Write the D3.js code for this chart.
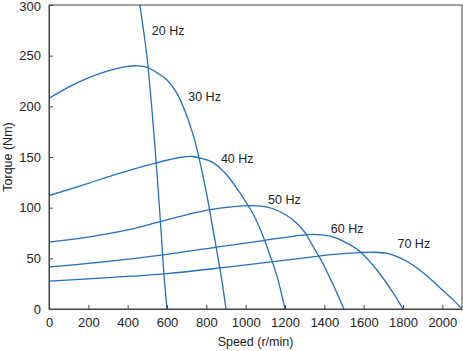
<!DOCTYPE html>
<html>
<head>
<meta charset="utf-8">
<script src="https://cdn.jsdelivr.net/npm/d3@7"></script>
<style>
  body { margin: 0; background: #fff; }
  text { font-family: "Liberation Sans", Arial, sans-serif; fill: #222; }
</style>
</head>
<body>
<div id="chart"></div>
<script>
// Data
const freqLabels = ['20 Hz', '30 Hz', '40 Hz', '50 Hz', '60 Hz', '70 Hz']

const speed20 = [462, 480, 500, 520, 538, 555, 573, 584, 600]
const torque20 = [300, 276, 246, 204, 162, 118, 68, 35, 0]

const speed30 = [0, 100, 200, 300, 400, 450, 500, 550, 600, 650, 700, 740, 770, 800, 830, 860, 880, 900]
const torque30 = [208, 219, 228, 235, 239.5, 240, 238.5, 233, 226, 213, 191, 167, 143, 115, 83, 50, 27, 0]

const speed40 = [0, 200, 360, 550, 680, 730, 780, 830, 870, 910, 955, 1000, 1040, 1080, 1120, 1160, 1200]
const torque40 = [112, 124, 134, 144.5, 150, 150.5, 148.5, 145, 139, 131, 119, 106, 93, 76, 55, 32, 0]

const speed50 = [0, 200, 400, 560, 700, 820, 940, 1040, 1110, 1175, 1240, 1300, 1330, 1360, 1390, 1420, 1450, 1475, 1500]
const torque50 = [66, 71, 78, 86, 93, 98, 101, 102, 100.5, 96, 88, 76, 66, 56, 46, 34, 22, 11, 0]

const speed60 = [0, 300, 580, 870, 1090, 1250, 1340, 1430, 1500, 1580, 1665, 1750, 1800]
const torque60 = [41.5, 47, 53.5, 61.5, 67.5, 72, 73.7, 71.8, 66.5, 57, 39, 16, 0]

const speed70 = [0, 300, 600, 870, 1130, 1300, 1450, 1580, 1650, 1720, 1785, 1850, 1910, 1960, 2010, 2060, 2100]
const torque70 = [27.6, 31, 35, 40.5, 46.5, 50.5, 54, 55.7, 56, 54.8, 50.5, 43.5, 34.5, 26, 17, 8, 0]

// label anchor (speed, torque) for each curve
const labelSpeed = [523, 708, 874, 1114, 1433, 1772]
const labelTorque = [270, 205.6, 144, 103.6, 75, 60]

const xTicks = [0, 200, 400, 600, 800, 1000, 1200, 1400, 1600, 1800, 2000]
const yTicks = [0, 50, 100, 150, 200, 250, 300]

// Dimensions
let dimensions = {
  width: 463,
  height: 351,
  margins: { top: 5, right: 1, bottom: 42, left: 49 },
}
dimensions.ctrWidth = dimensions.width - dimensions.margins.left - dimensions.margins.right
dimensions.ctrHeight = dimensions.height - dimensions.margins.top - dimensions.margins.bottom

const svg = d3.select('#chart')
  .append('svg')
  .attr('width', dimensions.width)
  .attr('height', dimensions.height)

const ctr = svg.append('g')
  .attr('transform', `translate(${dimensions.margins.left}, ${dimensions.margins.top})`)

// Scales
const xScale = d3.scaleLinear().domain([0, 2100]).range([0, dimensions.ctrWidth])
const yScale = d3.scaleLinear().domain([0, 300]).range([dimensions.ctrHeight, 0])

svg.append('defs').append('clipPath').attr('id', 'clip')
  .append('rect')
  .attr('width', dimensions.ctrWidth)
  .attr('height', dimensions.ctrHeight)

const curves = [
  [speed20, torque20],
  [speed30, torque30],
  [speed40, torque40],
  [speed50, torque50],
  [speed60, torque60],
  [speed70, torque70],
].map(([s, t]) => s.map((v, i) => ({ speed: v, torque: t[i] })))

const line = d3.line()
  .x(d => xScale(d.speed))
  .y(d => yScale(d.torque))
  .curve(d3.curveCatmullRom.alpha(0.5))

ctr.append('g')
  .attr('clip-path', 'url(#clip)')
  .selectAll('path')
  .data(curves)
  .join('path')
  .attr('d', line)
  .attr('fill', 'none')
  .attr('stroke', '#1f6fc2')
  .attr('stroke-width', 1.3)

// Frame
ctr.append('rect')
  .attr('width', dimensions.ctrWidth)
  .attr('height', dimensions.ctrHeight)
  .attr('fill', 'none')
  .attr('stroke', '#444')
  .attr('stroke-width', 1)

// Axes (ticks inside)
const xAxis = d3.axisBottom(xScale).tickValues(xTicks).tickFormat(d3.format('d'))
  .tickSizeInner(-4).tickSizeOuter(0).tickPadding(9)
const yAxis = d3.axisLeft(yScale).tickValues(yTicks).tickFormat(d3.format('d'))
  .tickSizeInner(-4).tickSizeOuter(0).tickPadding(8)

const xG = ctr.append('g')
  .attr('transform', `translate(0, ${dimensions.ctrHeight})`)
  .call(xAxis)
const yG = ctr.append('g').call(yAxis)

;[xG, yG].forEach(g => {
  g.select('.domain').attr('stroke', '#444')
  g.selectAll('.tick line').attr('stroke', '#444')
  g.selectAll('.tick text')
    .attr('font-size', 13)
    .attr('font-family', '"Liberation Sans", Arial, sans-serif')
    .attr('fill', '#222')
})
yG.selectAll('.tick text').filter(d => d === 300).attr('dy', '0.45em')

// Curve labels
ctr.append('g')
  .selectAll('text')
  .data(freqLabels)
  .join('text')
  .attr('x', (d, i) => xScale(labelSpeed[i]))
  .attr('y', (d, i) => yScale(labelTorque[i]))
  .attr('font-size', 12.5)
  .text(d => d)

// Axis titles
svg.append('text')
  .attr('x', dimensions.margins.left + dimensions.ctrWidth / 2)
  .attr('y', 346)
  .attr('text-anchor', 'middle')
  .attr('font-size', 12.5)
  .text('Speed (r/min)')

svg.append('text')
  .attr('transform', `translate(12, ${dimensions.margins.top + dimensions.ctrHeight / 2}) rotate(-90)`)
  .attr('text-anchor', 'middle')
  .attr('font-size', 12.5)
  .text('Torque (Nm)')
</script>
</body>
</html>
